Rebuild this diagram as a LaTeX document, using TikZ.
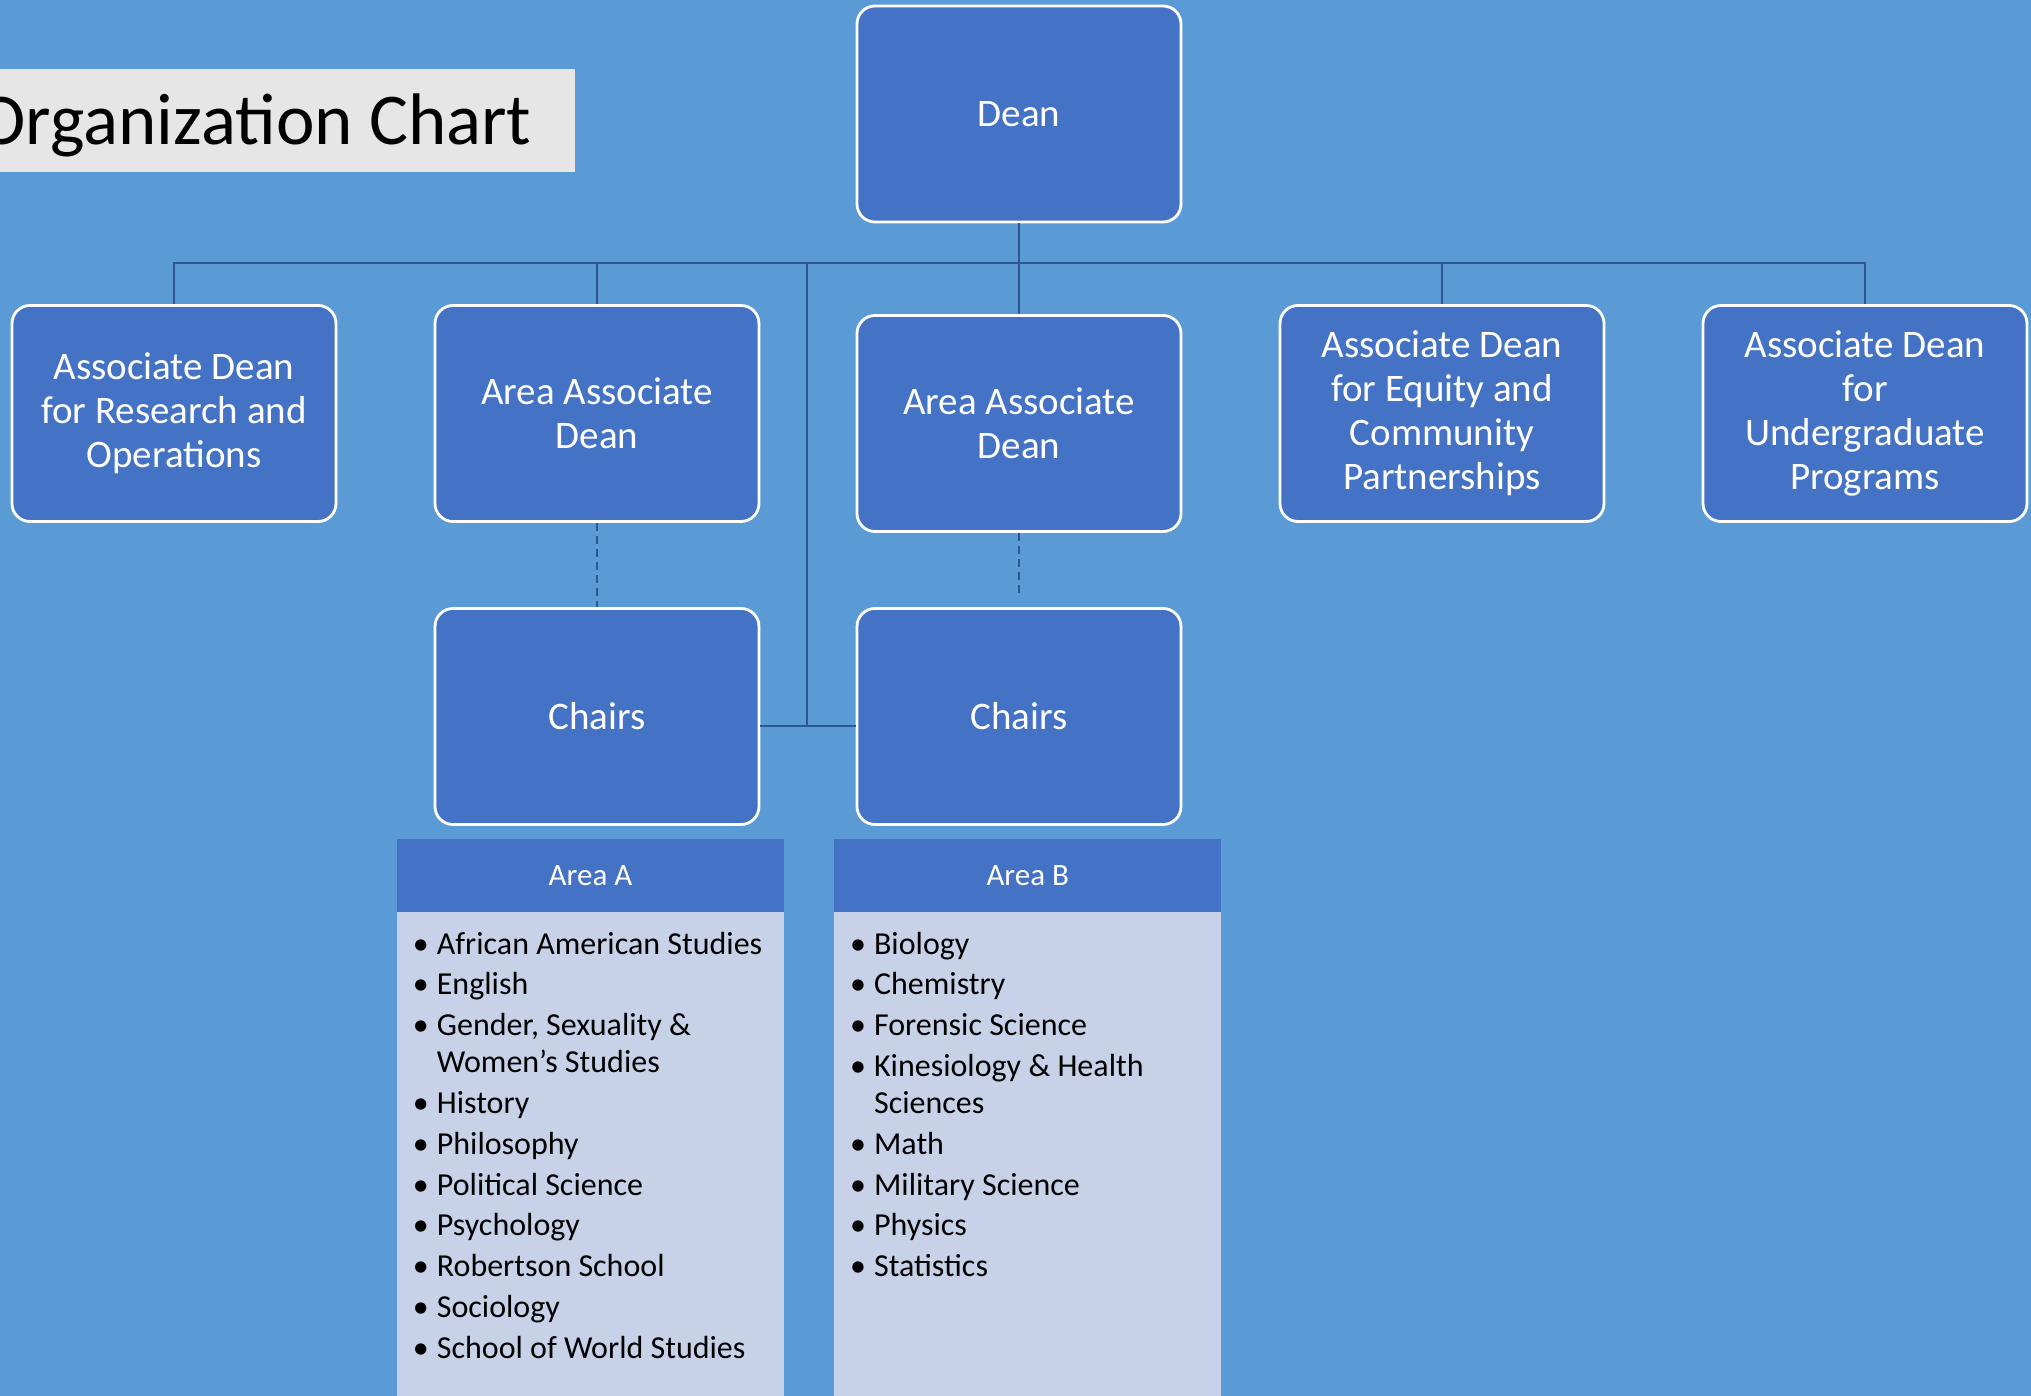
\documentclass[tikz,border=0pt]{standalone}
\usepackage{fontspec}
\setmainfont{Carlito}
\definecolor{bgblue}{RGB}{91,155,213}
\definecolor{boxblue}{RGB}{68,114,196}
\definecolor{linkblue}{RGB}{47,85,151}
\definecolor{titlegray}{RGB}{231,230,230}
\definecolor{bodyblue}{RGB}{199,209,232}
\newcommand{\bul}{\llap{\makebox[12pt][l]{\textbullet}}}
\begin{document}
\begin{tikzpicture}[x=0.5pt,y=-0.5pt,
  orgbox/.style={rectangle, rounded corners=9pt, fill=boxblue, draw=white, line width=1.4pt,
    minimum width=162pt, minimum height=108pt, inner sep=0pt, text=white, align=center,
    font=\fontsize{19.5}{22}\selectfont},
  conn/.style={draw=linkblue, line width=1.2pt},
  dashconn/.style={conn, dash pattern=on 4pt off 2.5pt},
  areahead/.style={rectangle, fill=boxblue, minimum width=193.5pt, minimum height=36.5pt,
    inner sep=0pt, text=white, font=\fontsize{15.5}{18}\selectfont},
  areabody/.style={rectangle, fill=bodyblue, minimum width=193.5pt, minimum height=244pt, inner sep=0pt},
  itm/.style={anchor=base west, inner sep=0pt, text=black, font=\fontsize{16}{18.5}\selectfont},
  titlebox/.style={rectangle, fill=titlegray, minimum width=295pt, minimum height=51.5pt, inner sep=0pt},
  titletext/.style={anchor=base east, inner sep=0pt, text=black, font=\fontsize{36.5}{40}\selectfont}
]
\useasboundingbox (0,0) rectangle (2031,1396);
\fill[bgblue] (0,0) rectangle (2031,1396);

% title
\node[titlebox] (tbox) at (280,120.5) {};
\node[titletext] (ttext) at (532,145) {Organization Chart};

% boxes
\node[orgbox] (dean) at (1019,114) {Dean};
\node[orgbox] (b1) at (174,413.5) {Associate Dean\\for Research and\\Operations};
\node[orgbox] (b2) at (597,413.5) {Area Associate\\Dean};
\node[orgbox] (b3) at (1019,423.5) {Area Associate\\Dean};
\node[orgbox] (b4) at (1442,413.5) {Associate Dean\\for Equity and\\Community\\Partnerships};
\node[orgbox] (b5) at (1865,413.5) {Associate Dean\\for\\Undergraduate\\Programs};
\node[orgbox] (chA) at (597,716.5) {Chairs};
\node[orgbox] (chB) at (1019,716.5) {Chairs};

\coordinate (bus) at (1019,263);
\coordinate (jn) at (807,726);

% connectors
\draw[conn] (b1.north) -- (b1.north |- bus) -- (b5.north |- bus) -- (b5.north);
\draw[conn] (dean.south) -- (b3.north);
\draw[conn] (b2.north) -- (b2.north |- bus);
\draw[conn] (b4.north) -- (b4.north |- bus);
\draw[conn] (jn |- bus) -- (jn);
\draw[conn] (chA.east |- jn) -- (chB.west |- jn);
\draw[dashconn] (b2.south) -- (chA.north);
\draw[dashconn, shorten >=5pt] (b3.south) -- (chB.north);

% area tables
\node[areahead] (hA) at (590.5,875.5) {Area A};
\node[areabody] (bA) at (590.5,1156) {};
\node[areahead] (hB) at (1027.75,875.5) {Area B};
\node[areabody] (bB) at (1027.75,1156) {};

% Area A items
\node[itm] (a1) at (436.5,954) {\bul African American Studies};
\node[itm] (a2) at (436.5,994.8) {\bul English};
\node[itm] (a3) at (436.5,1035.6) {\bul Gender, Sexuality \&};
\node[itm] (a3b) at (436.5,1072.6) {Women’s Studies};
\node[itm] (a4) at (436.5,1113.4) {\bul History};
\node[itm] (a5) at (436.5,1154.2) {\bul Philosophy};
\node[itm] (a6) at (436.5,1195) {\bul Political Science};
\node[itm] (a7) at (436.5,1235.8) {\bul Psychology};
\node[itm] (a8) at (436.5,1276.6) {\bul Robertson School};
\node[itm] (a9) at (436.5,1317.4) {\bul Sociology};
\node[itm] (a10) at (436.5,1358.2) {\bul School of World Studies};

% Area B items
\node[itm] (c1) at (873.7,954) {\bul Biology};
\node[itm] (c2) at (873.7,994.8) {\bul Chemistry};
\node[itm] (c3) at (873.7,1035.6) {\bul Forensic Science};
\node[itm] (c4) at (873.7,1076.4) {\bul Kinesiology \& Health};
\node[itm] (c4b) at (873.7,1113.4) {Sciences};
\node[itm] (c5) at (873.7,1154.2) {\bul Math};
\node[itm] (c6) at (873.7,1195) {\bul Military Science};
\node[itm] (c7) at (873.7,1235.8) {\bul Physics};
\node[itm] (c8) at (873.7,1276.6) {\bul Statistics};
\end{tikzpicture}
\end{document}
